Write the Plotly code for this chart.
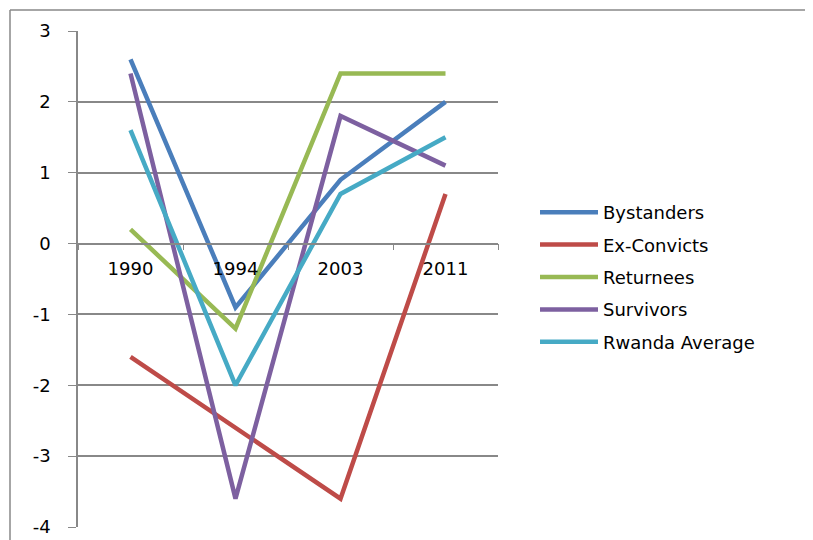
import plotly.graph_objects as go

years = ["1990", "1994", "2003", "2011"]
bystanders = [2.6, -0.9, 0.9, 2.0]
ex_convicts = [-1.6, -2.6, -3.6, 0.7]
returnees = [0.2, -1.2, 2.4, 2.4]
survivors = [2.4, -3.6, 1.8, 1.1]
rwanda_avg = [1.6, -2.0, 0.7, 1.5]
y_ticks = [-4, -3, -2, -1, 0, 1, 2, 3]
y_tick_labels = ["-4", "-3", "-2", "-1", "0", "1", "2", "3"]

series = [
    ("Bystanders", bystanders, "#4A7EBB"),
    ("Ex-Convicts", ex_convicts, "#BE4B48"),
    ("Returnees", returnees, "#98B954"),
    ("Survivors", survivors, "#7D60A0"),
    ("Rwanda Average", rwanda_avg, "#46AAC5"),
]

OFF = 8  # page body margin
W, H = 813 - OFF, 540 - OFF
L, R, T, B = 78 - OFF, 498 - OFF, 31 - OFF, 527 - OFF
ymin, ymax = -4, 3

fig = go.Figure()
for i, (name, vals, col) in enumerate(series):
    fig.add_trace(go.Scatter(x=years, y=vals, name=name, mode="lines",
                             legendgroup=f"g{i}",
                             line=dict(color=col, width=4.5)))

font = "DejaVu Sans"
fs = 18
pw, ph = R - L, B - T
fx0 = (10 - OFF - L) / pw
fy1 = (B - (10 - OFF)) / ph
frame = dict(color="#888888", width=1.5)
fig.update_layout(
    width=W, height=H,
    margin=dict(l=L, r=W - R, t=T, b=H - B, autoexpand=False),
    paper_bgcolor="white", plot_bgcolor="white",
    font=dict(family=font, size=fs, color="black"),
    showlegend=True,
    legend=dict(x=(535 - OFF - L) / pw, y=(B - (194 - OFF)) / ph,
                xanchor="left", yanchor="top", itemwidth=58,
                font=dict(family=font, size=fs), tracegroupgap=6,
                bgcolor="rgba(0,0,0,0)"),
    xaxis=dict(type="category", anchor="free", position=(0 - ymin) / (ymax - ymin),
               showline=True, linecolor="#888888", linewidth=1.5,
               ticks="outside", tickson="boundaries", ticklen=6, tickcolor="#888888",
               showgrid=False, range=[-0.5, 3.5], zeroline=False,
               ticklabelstandoff=9, tickfont=dict(family=font, size=fs)),
    yaxis=dict(range=[ymin, ymax], tickvals=y_ticks, ticktext=y_tick_labels,
               showline=True, linecolor="#888888",
               linewidth=1.5, ticks="outside", ticklen=8, tickcolor="#888888",
               showgrid=True, gridcolor="#888888", gridwidth=1.5, zeroline=False,
               ticklabelstandoff=14, tickfont=dict(family=font, size=fs)),
    shapes=[
        dict(type="line", xref="paper", yref="paper", x0=fx0, x1=fx0,
             y0=(B - (H + 40)) / ph, y1=fy1, line=frame, layer="below"),
        dict(type="line", xref="paper", yref="paper", x0=fx0, x1=(W + 40 - L) / pw,
             y0=fy1, y1=fy1, line=frame, layer="below"),
    ],
)

fig.write_html("out.html")
